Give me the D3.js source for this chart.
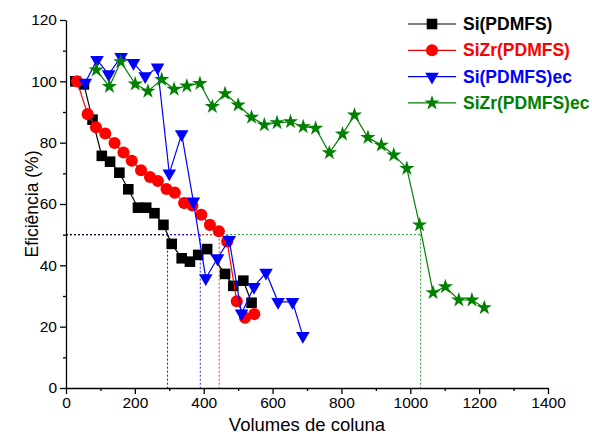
<!DOCTYPE html>
<html>
<head>
<meta charset="utf-8">
<script src="https://cdn.jsdelivr.net/npm/d3@7"></script>
<style>
  body { margin: 0; background: #fff; }
  text { font-family: "Liberation Sans", Arial, sans-serif; }
</style>
</head>
<body>
<div id="chart"></div>
<script>
// Data
var siX = [27, 52, 77, 104, 128, 155, 181, 209, 233, 257, 283, 307, 336, 360, 384, 410, 462, 486, 515, 539];
var siY = [100, 99, 87.5, 75.7, 73.8, 70.2, 64.8, 58.8, 58.8, 57, 53.2, 47, 42.3, 41.2, 43.4, 45.3, 37.2, 33.3, 35, 27.8];

var sizrX = [32, 63, 87, 114, 141, 167, 191, 218, 244, 267, 292, 316, 343, 367, 393, 418, 444, 468, 496, 520, 547];
var sizrY = [100, 89.3, 85, 83, 79.9, 76.8, 74.1, 71, 68.8, 67.5, 64.9, 63.7, 60.3, 59.5, 56.5, 53.2, 51.1, 47.8, 28.3, 22.9, 24.1];

var siEcX = [56, 90, 124, 160, 196, 230, 266, 300, 336, 370, 406, 440, 474, 510, 546, 581, 616, 658, 688];
var siEcY = [99.6, 107, 102.3, 108, 106, 101.7, 104.5, 70, 82.8, 60.8, 35.8, 42.3, 48.3, 24.3, 33, 37.6, 28.1, 28.1, 17];

var sizrEcX = [88, 126, 159, 201, 238, 278, 314, 351, 389, 425, 462, 500, 539, 576, 613, 652, 689, 725, 765, 803, 838, 877, 916, 952, 990, 1027, 1066, 1102, 1141, 1179, 1215];
var sizrEcY = [103.7, 98.3, 106.4, 99.1, 96.8, 100.6, 97.4, 98.5, 99.3, 91.8, 96, 92.3, 88.3, 85.8, 86.5, 86.8, 85.2, 84.7, 76.7, 82.8, 89, 81.7, 79.2, 76, 71.6, 53.2, 31.1, 33, 28.7, 28.7, 26.2];

var seriesNames = ["Si(PDMFS)", "SiZr(PDMFS)", "Si(PDMFS)ec", "SiZr(PDMFS)ec"];
var seriesColors = ["#000000", "#ff0000", "#0000ff", "#008000"];
var cutoffX = [295, 445, 390, 1030];   // volume at 50 % efficiency
var cutoffY = 50;

var xTicks = [0, 200, 400, 600, 800, 1000, 1200, 1400];
var xMinor = [100, 300, 500, 700, 900, 1100, 1300];
var yTicks = [0, 20, 40, 60, 80, 100, 120];
var yMinor = [10, 30, 50, 70, 90, 110];

var svgWidth = 592;
var svgHeight = 434;
var margin = { top: 20, right: 44, bottom: 46, left: 66 };
var width = svgWidth - margin.left - margin.right;
var height = svgHeight - margin.top - margin.bottom;

var svg = d3.select("#chart")
  .append("svg")
  .attr("width", svgWidth)
  .attr("height", svgHeight);

var chartGroup = svg.append("g")
  .attr("transform", `translate(${margin.left}, ${margin.top})`);

var xScale = d3.scaleLinear().domain([0, 1400]).range([0, width]);
var yScale = d3.scaleLinear().domain([0, 120]).range([height, 0]);

var series = [
  { x: siX, y: siY, symbol: d3.symbolSquare, size: 112, rotate: 0 },
  { x: sizrX, y: sizrY, symbol: d3.symbolCircle, size: 115, rotate: 0 },
  { x: siEcX, y: siEcY, symbol: d3.symbolTriangle, size: 80, rotate: 180 },
  { x: sizrEcX, y: sizrEcY, symbol: d3.symbolStar, size: 72, rotate: 0 }
];
series.forEach(function(s, i) {
  s.name = seriesNames[i];
  s.color = seriesColors[i];
  s.points = s.x.map((v, j) => ({ x: v, y: s.y[j] }));
});

// dotted guide lines at 50 %
[3, 1, 2, 0].forEach(function(i) {
  var g = chartGroup.append("g")
    .attr("stroke", seriesColors[i])
    .attr("stroke-width", 1)
    .attr("stroke-dasharray", "2,2")
    .attr("opacity", 0.85);
  g.append("line")
    .attr("x1", xScale(0)).attr("x2", xScale(cutoffX[i]))
    .attr("y1", yScale(cutoffY)).attr("y2", yScale(cutoffY));
  g.append("line")
    .attr("x1", xScale(cutoffX[i])).attr("x2", xScale(cutoffX[i]))
    .attr("y1", yScale(cutoffY)).attr("y2", yScale(0));
});

// axes
var bottomAxis = d3.axisBottom(xScale).tickValues(xTicks).tickFormat(d3.format("d"))
  .tickSize(6).tickSizeOuter(0).tickPadding(3);
var bottomMinor = d3.axisBottom(xScale).tickValues(xMinor).tickSize(3).tickFormat("");
var leftAxis = d3.axisLeft(yScale).tickValues(yTicks).tickFormat(d3.format("d"))
  .tickSize(6).tickSizeOuter(0).tickPadding(3);
var leftMinor = d3.axisLeft(yScale).tickValues(yMinor).tickSize(3).tickFormat("");

chartGroup.append("g").attr("transform", `translate(0, ${height})`).call(bottomAxis);
chartGroup.append("g").attr("transform", `translate(0, ${height})`).call(bottomMinor)
  .select(".domain").remove();
chartGroup.append("g").call(leftAxis);
chartGroup.append("g").call(leftMinor).select(".domain").remove();

chartGroup.selectAll(".tick text")
  .attr("font-size", 15.5)
  .attr("font-family", "Liberation Sans, Arial, sans-serif")
  .attr("fill", "#000");
chartGroup.selectAll(".domain, .tick line").attr("stroke", "#000").attr("stroke-width", 1.3);

// lines and markers
var line = d3.line().x(d => xScale(d.x)).y(d => yScale(d.y));

series.forEach(function(s) {
  chartGroup.append("path")
    .datum(s.points)
    .attr("d", line)
    .attr("fill", "none")
    .attr("stroke", s.color)
    .attr("stroke-width", 1.2);

  chartGroup.selectAll(null)
    .data(s.points)
    .enter()
    .append("path")
    .attr("d", d3.symbol().type(s.symbol).size(s.size))
    .attr("transform", d => `translate(${xScale(d.x)}, ${yScale(d.y)}) rotate(${s.rotate})`)
    .attr("fill", s.color);
});

// legend
var legend = svg.append("g").attr("transform", "translate(408, 24)");
series.forEach(function(s, i) {
  var row = legend.append("g").attr("transform", `translate(0, ${i * 26.3})`);
  row.append("line")
    .attr("x1", 0).attr("x2", 48)
    .attr("y1", 0).attr("y2", 0)
    .attr("stroke", s.color)
    .attr("stroke-width", 1.2);
  row.append("path")
    .attr("d", d3.symbol().type(s.symbol).size(s.size))
    .attr("transform", `translate(24, 0) rotate(${s.rotate})`)
    .attr("fill", s.color);
  row.append("text")
    .attr("x", 55)
    .attr("y", 6)
    .attr("font-size", 17.5)
    .attr("font-weight", "bold")
    .attr("fill", s.color)
    .text(s.name);
});

// axis titles
chartGroup.append("text")
  .attr("transform", "rotate(-90)")
  .attr("x", -height / 2)
  .attr("y", -28)
  .attr("text-anchor", "middle")
  .attr("font-size", 17.5)
  .text("Eficiência (%)");

chartGroup.append("text")
  .attr("x", width / 2)
  .attr("y", height + 43)
  .attr("text-anchor", "middle")
  .attr("font-size", 18.5)
  .text("Volumes de coluna");
</script>
</body>
</html>
